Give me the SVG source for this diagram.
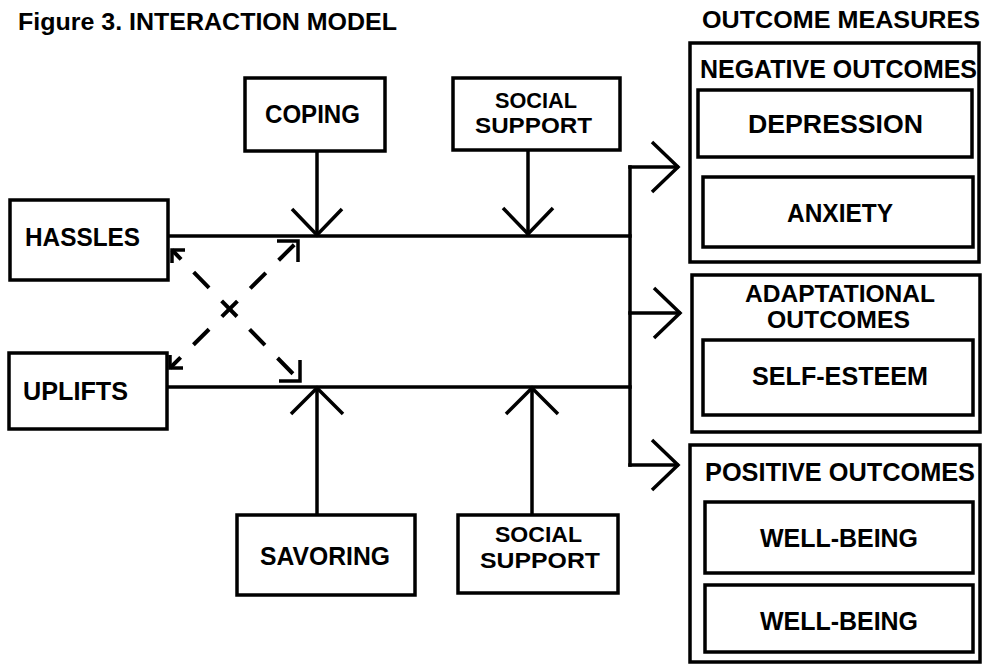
<svg xmlns="http://www.w3.org/2000/svg" width="982" height="666" viewBox="0 0 982 666">
<style>
text{font-family:"Liberation Sans",Arial,Helvetica,sans-serif;font-weight:bold;font-size:25px;fill:#000}
.t{font-size:23px}
.two{font-size:22px}
.two2{font-size:23px}
.box{fill:#fff;stroke:#000;stroke-width:3.5}
.ln{fill:none;stroke:#000;stroke-width:3.5;stroke-linecap:square}
.hd{fill:none;stroke:#000;stroke-width:3.5;stroke-linejoin:miter;stroke-linecap:butt}
.ds{fill:none;stroke:#000;stroke-width:4;stroke-dasharray:22 18}
</style>
<rect width="982" height="666" fill="#fff"/>
<text class="t" x="18" y="30" textLength="379" lengthAdjust="spacingAndGlyphs">Figure 3. INTERACTION MODEL</text>
<text class="t" x="702" y="28" textLength="278" lengthAdjust="spacingAndGlyphs">OUTCOME MEASURES</text>

<g id="connectors">
<line class="ln" x1="168" y1="236" x2="630" y2="236"/>
<line class="ln" x1="167" y1="387" x2="630" y2="387"/>
<line class="ln" x1="630" y1="167" x2="630" y2="465"/>
<line class="ln" x1="630" y1="167" x2="677" y2="167"/>
<line class="ln" x1="630" y1="313" x2="679" y2="313"/>
<line class="ln" x1="630" y1="465" x2="677" y2="465"/>
<polyline class="hd" points="652,142 678,167 652,192"/>
<polyline class="hd" points="654,288 680,313 654,338"/>
<polyline class="hd" points="652,440 678,465 652,490"/>
<line class="ln" x1="317" y1="152" x2="317" y2="234"/>
<polyline class="hd" points="292,209 317,235 342,209"/>
<line class="ln" x1="528" y1="150" x2="528" y2="234"/>
<polyline class="hd" points="503,208 528,234 553,208"/>
<line class="ln" x1="317" y1="515" x2="317" y2="389"/>
<polyline class="hd" points="291,414 317,388 343,414"/>
<line class="ln" x1="532" y1="513" x2="532" y2="389"/>
<polyline class="hd" points="506,414 532,388 558,414"/>
<line class="ds" x1="172" y1="250" x2="300" y2="381" stroke-dashoffset="9"/>
<line class="ds" x1="170" y1="368" x2="298" y2="241" stroke-dashoffset="7"/>
<polyline class="hd" points="279,381 300,381 300,360" stroke-width="4"/>
<polyline class="hd" points="185,250 172,250 172,263" stroke-width="4"/>
<polyline class="hd" points="277,241 298,241 298,262" stroke-width="4"/>
<polyline class="hd" points="170,355 170,368 183,368" stroke-width="4"/>
</g>

<g id="hassles"><rect class="box" x="10" y="200" width="158" height="80"/><text x="25" y="246" textLength="115" lengthAdjust="spacingAndGlyphs">HASSLES</text></g>
<g id="uplifts"><rect class="box" x="9" y="353" width="158" height="76"/><text x="23" y="400" textLength="105" lengthAdjust="spacingAndGlyphs">UPLIFTS</text></g>
<g id="coping"><rect class="box" x="245" y="78" width="140" height="73"/><text x="265" y="123" textLength="95" lengthAdjust="spacingAndGlyphs">COPING</text></g>
<g id="social-top"><rect class="box" x="453" y="78" width="167" height="72"/><text class="two" x="495" y="108" textLength="82" lengthAdjust="spacingAndGlyphs">SOCIAL</text><text class="two" x="475" y="133" textLength="117" lengthAdjust="spacingAndGlyphs">SUPPORT</text></g>
<g id="savoring"><rect class="box" x="237" y="515" width="178" height="80"/><text x="260" y="565" textLength="130" lengthAdjust="spacingAndGlyphs">SAVORING</text></g>
<g id="social-bottom"><rect class="box" x="458" y="515" width="160" height="78"/><text class="two" x="495" y="542" textLength="87" lengthAdjust="spacingAndGlyphs">SOCIAL</text><text class="two" x="480" y="568" textLength="120" lengthAdjust="spacingAndGlyphs">SUPPORT</text></g>

<g id="negative"><rect class="box" x="690" y="43" width="289" height="219"/><text x="700" y="78" textLength="277" lengthAdjust="spacingAndGlyphs">NEGATIVE OUTCOMES</text></g>
<g id="depression"><rect class="box" x="698" y="90" width="274" height="67"/><text x="748" y="133" textLength="175" lengthAdjust="spacingAndGlyphs">DEPRESSION</text></g>
<g id="anxiety"><rect class="box" x="703" y="177" width="270" height="70"/><text x="787" y="222" textLength="106" lengthAdjust="spacingAndGlyphs">ANXIETY</text></g>
<g id="adaptational"><rect class="box" x="692" y="275" width="288" height="157"/><text class="two2" x="745" y="302" textLength="190" lengthAdjust="spacingAndGlyphs">ADAPTATIONAL</text><text class="two2" x="767" y="328" textLength="143" lengthAdjust="spacingAndGlyphs">OUTCOMES</text></g>
<g id="self-esteem"><rect class="box" x="703" y="340" width="270" height="75"/><text x="752" y="385" textLength="176" lengthAdjust="spacingAndGlyphs">SELF-ESTEEM</text></g>
<g id="positive"><rect class="box" x="690" y="445" width="290" height="217"/><text x="705" y="481" textLength="270" lengthAdjust="spacingAndGlyphs">POSITIVE OUTCOMES</text></g>
<g id="well-being-1"><rect class="box" x="705" y="502" width="268" height="71"/><text x="760" y="547" textLength="158" lengthAdjust="spacingAndGlyphs">WELL-BEING</text></g>
<g id="well-being-2"><rect class="box" x="705" y="585" width="268" height="67"/><text x="760" y="630" textLength="158" lengthAdjust="spacingAndGlyphs">WELL-BEING</text></g>
</svg>
